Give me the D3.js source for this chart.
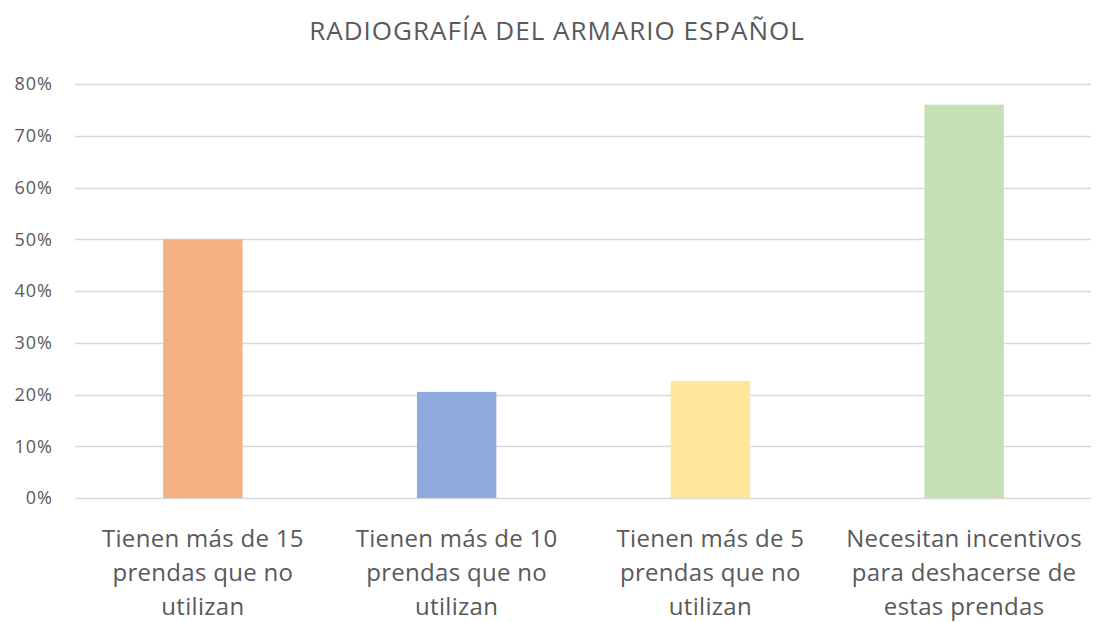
<!DOCTYPE html>
<html>
<head>
<meta charset="utf-8">
<script src="https://cdn.jsdelivr.net/npm/d3@7"></script>
<style>
  body { margin: 0; background: #fff; }
  text { font-family: "Open Sans", sans-serif; fill: #595959; }
</style>
</head>
<body>
<div class="chart"></div>
<script>
// Data
var categories = [
  ["Tienen más de 15", "prendas que no", "utilizan"],
  ["Tienen más de 10", "prendas que no", "utilizan"],
  ["Tienen más de 5", "prendas que no", "utilizan"],
  ["Necesitan incentivos", "para deshacerse de", "estas prendas"]
];
var values = [0.50, 0.205, 0.226, 0.76];
var colors = ["#F4B183", "#8FAADC", "#FFE699", "#C5E0B4"];
var yTicks = [0, 0.1, 0.2, 0.3, 0.4, 0.5, 0.6, 0.7, 0.8];
var title = "RADIOGRAFÍA DEL ARMARIO ESPAÑOL";

var svgWidth = 1110;
var svgHeight = 622;

var margin = { top: 84, right: 19, bottom: 124, left: 76 };
var width = svgWidth - margin.left - margin.right;
var height = svgHeight - margin.top - margin.bottom;

var svg = d3.select(".chart")
  .append("svg")
  .attr("width", svgWidth)
  .attr("height", svgHeight);

var chartGroup = svg.append("g")
  .attr("transform", `translate(${margin.left}, ${margin.top})`);

// Title
svg.append("text")
  .attr("x", 557)
  .attr("y", 40)
  .attr("text-anchor", "middle")
  .style("font-size", "26px")
  .style("letter-spacing", "1px")
  .text(title);

// Scales
var xScale = d3.scaleBand()
  .domain(d3.range(categories.length))
  .range([0, width])
  .paddingInner(0.687)
  .paddingOuter(0.3435);

var yScale = d3.scaleLinear()
  .domain([0, 0.8])
  .range([height, 0]);

// Gridlines
chartGroup.append("g")
  .selectAll("line")
  .data(yTicks)
  .enter()
  .append("line")
  .attr("x1", -1)
  .attr("x2", width)
  .attr("y1", d => Math.round(yScale(d)) + 0.5)
  .attr("y2", d => Math.round(yScale(d)) + 0.5)
  .attr("stroke", "#D9D9D9")
  .attr("stroke-width", 1.3);

// Y axis labels
var leftAxis = d3.axisLeft(yScale)
  .tickValues(yTicks)
  .tickFormat(d3.format(".0%"))
  .tickSize(0)
  .tickPadding(23);

var yAxisG = chartGroup.append("g").call(leftAxis);
yAxisG.select(".domain").remove();
yAxisG.selectAll("text")
  .style("font-size", "18px")
  .style("letter-spacing", "1px")
  .style("font-family", "'Open Sans', sans-serif")
  .attr("fill", "#595959");

// Bars
chartGroup.selectAll("rect.bar")
  .data(values)
  .enter()
  .append("rect")
  .attr("class", "bar")
  .attr("x", (d, i) => xScale(i))
  .attr("y", d => yScale(d))
  .attr("width", xScale.bandwidth())
  .attr("height", d => height - yScale(d))
  .attr("fill", (d, i) => colors[i]);

// Category labels
var labelGroup = chartGroup.selectAll("text.cat")
  .data(categories)
  .enter()
  .append("text")
  .attr("class", "cat")
  .attr("text-anchor", "middle")
  .style("font-size", "24px")
  .style("letter-spacing", "0.3px")
  .attr("transform", (d, i) => `translate(${xScale(i) + xScale.bandwidth() / 2}, ${height + 49})`);

labelGroup.selectAll("tspan")
  .data(d => d)
  .enter()
  .append("tspan")
  .attr("x", 0)
  .attr("y", (d, j) => j * 34)
  .text(d => d);
</script>
</body>
</html>
